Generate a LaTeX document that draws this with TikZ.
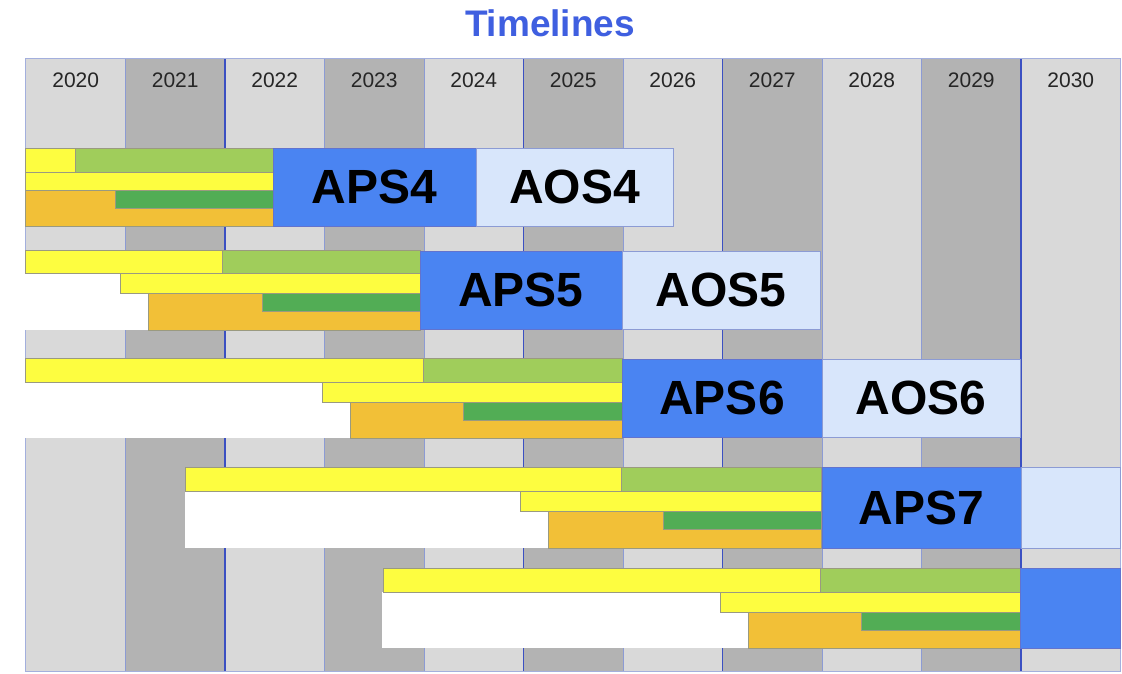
\documentclass[tikz,border=0pt]{standalone}
\usepackage{fontspec}
\setmainfont{Liberation Sans}
\definecolor{colL}{HTML}{D9D9D9}
\definecolor{colD}{HTML}{B3B3B3}
\definecolor{bYel}{HTML}{FDFD40}
\definecolor{bLgr}{HTML}{A0CD5B}
\definecolor{bDgr}{HTML}{52AD55}
\definecolor{bOrg}{HTML}{F2C037}
\definecolor{bAps}{HTML}{4A84F2}
\definecolor{bAos}{HTML}{D8E6FB}
\definecolor{ttl}{HTML}{3F5FE0}
\definecolor{sepL}{HTML}{8C9BD4}
\definecolor{sepD}{HTML}{3B50C2}
\definecolor{edge}{HTML}{9A9A80}
\tikzset{
  bar/.style={draw=edge, line width=0.5pt},
  yel/.style={bar, fill=bYel},
  lgr/.style={bar, fill=bLgr},
  dgr/.style={bar, fill=bDgr},
  org/.style={bar, fill=bOrg},
  wht/.style={fill=white},
  boxbase/.style={inner sep=0pt, outer sep=0pt, line width=0.8pt, minimum height=78pt,
    font=\fontsize{48}{52}\selectfont\bfseries, text=black},
  apsbox/.style={boxbase, fill=bAps, draw=sepD!80},
  aosbox/.style={boxbase, fill=bAos, draw=sepL},
  yearlbl/.style={anchor=base, inner sep=0pt, font=\fontsize{21}{23}\selectfont, text=black!85},
  titlelbl/.style={anchor=base, inner sep=0pt, font=\fontsize{37}{40}\selectfont\bfseries, text=ttl},
}
\begin{document}
\begin{tikzpicture}[x=1pt,y=-1pt]
\useasboundingbox (0,0) rectangle (1122,673);
\fill[white] (0,0) rectangle (1122,673);
% title
\node[titlelbl] (title) at (550,36) {Timelines};
% columns
\foreach \i/\c in {0/colL,1/colD,2/colL,3/colD,4/colL,5/colD,6/colL,7/colD,8/colL,9/colD,10/colL}{
  \fill[\c] ({26+99.5*\i},58) rectangle ({26+99.5*(\i+1)},671);
}
\foreach \i in {1,3,4,6,8,9}{
  \draw[sepL, line width=0.8pt] ({26+99.5*\i},58) -- ({26+99.5*\i},671);
}
\foreach \i in {2,5,7,10}{
  \draw[sepD, line width=1.1pt] ({26+99.5*\i},58) -- ({26+99.5*\i},671);
}
\draw[sepL!80, line width=0.8pt] (25,58) rectangle (1120.5,671);
% year labels
\foreach \i/\yr in {0/2020,1/2021,2/2022,3/2023,4/2024,5/2025,6/2026,7/2027,8/2028,9/2029,10/2030}{
  \node[yearlbl] (y\yr) at ({26+99.5*\i+49.75},87) {\yr};
}
% ---- row 1 ----
\fill[yel] (25,148) rectangle (75,172);
\fill[lgr] (75,148) rectangle (273,172);
\fill[yel] (25,172) rectangle (273,190);
\fill[org] (25,190) rectangle (273,226);
\fill[dgr] (115,190) rectangle (273,208);
\node[apsbox, minimum width=203pt] (aps4) at (374.5,187) {APS4};
\node[aosbox, minimum width=197pt] (aos4) at (574.5,187) {AOS4};
% ---- row 2 ----
\fill[wht] (25,273) rectangle (148,330);
\fill[yel] (25,250) rectangle (222,273);
\fill[lgr] (222,250) rectangle (420,273);
\fill[yel] (120,273) rectangle (420,293);
\fill[org] (148,293) rectangle (420,330);
\fill[dgr] (262,293) rectangle (420,311);
\node[apsbox, minimum width=202pt] (aps5) at (521,290) {APS5};
\node[aosbox, minimum width=198pt] (aos5) at (721,290) {AOS5};
% ---- row 3 ----
\fill[wht] (25,382) rectangle (350,438);
\fill[yel] (25,358) rectangle (423,382);
\fill[lgr] (423,358) rectangle (622,382);
\fill[yel] (322,382) rectangle (622,402);
\fill[org] (350,402) rectangle (622,438);
\fill[dgr] (463,402) rectangle (622,420);
\node[apsbox, minimum width=200pt] (aps6) at (722,398) {APS6};
\node[aosbox, minimum width=198pt] (aos6) at (921,398) {AOS6};
% ---- row 4 ----
\fill[wht] (185,491) rectangle (548,548);
\fill[yel] (185,467) rectangle (621,491);
\fill[lgr] (621,467) rectangle (821,491);
\fill[yel] (520,491) rectangle (821,511);
\fill[org] (548,511) rectangle (821,548);
\fill[dgr] (663,511) rectangle (821,529);
\node[apsbox, minimum width=199pt, minimum height=81pt] (aps7) at (921.5,507.5) {APS7};
\node[aosbox, minimum width=99pt, minimum height=81pt] (aos7) at (1070.5,507.5) {};
% ---- row 5 ----
\fill[wht] (382,592) rectangle (748,648);
\fill[yel] (383,568) rectangle (820,592);
\fill[lgr] (820,568) rectangle (1020,592);
\fill[yel] (720,592) rectangle (1020,612);
\fill[org] (748,612) rectangle (1020,648);
\fill[dgr] (861,612) rectangle (1020,630);
\node[apsbox, minimum width=100pt, minimum height=80pt] (aps8) at (1070.5,608) {};
\end{tikzpicture}
\end{document}
